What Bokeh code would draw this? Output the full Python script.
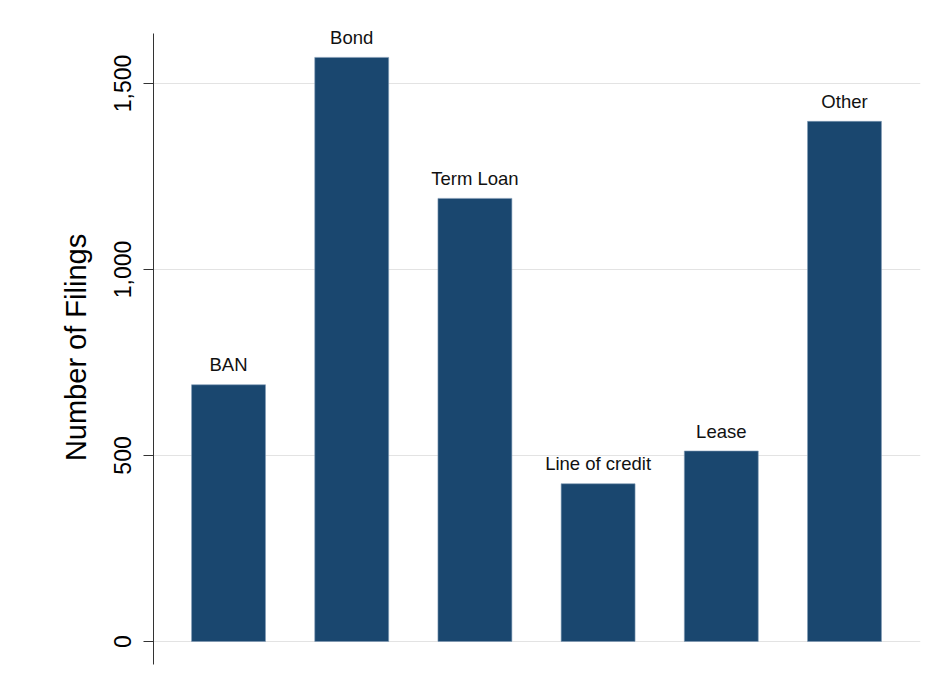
from bokeh.plotting import figure
from bokeh.models import ColumnDataSource, Range1d, FixedTicker, NumeralTickFormatter
from bokeh.core.properties import value
from bokeh.embed import file_html
from bokeh.resources import INLINE

categories = ["BAN", "Bond", "Term Loan", "Line of credit", "Lease", "Other"]
filings = [690, 1570, 1191, 424, 512, 1398]
y_ticks = [0, 500, 1000, 1500]

FONT = "Liberation Sans"
BAR = "#1a476f"

xs = list(range(len(categories)))
src = ColumnDataSource(dict(x=xs, top=filings, cat=categories))

p = figure(width=925, height=684, output_backend="svg", toolbar_location=None,
           x_range=Range1d(-0.609, 5.617), y_range=Range1d(-115.6, 1696),
           min_border_left=153, min_border_right=5, min_border_top=10, min_border_bottom=0)
p.outline_line_color = None
p.background_fill_color = "white"
p.border_fill_color = "white"

p.vbar(x="x", top="top", bottom=0, width=0.6, source=src,
       fill_color=BAR, line_color="#7f9ab5", line_width=0.6)

p.text(x="x", y="top", text="cat", source=src, text_align="center",
       text_baseline="alphabetic", y_offset=-20, text_font=value(FONT),
       text_font_size="18.5px", text_color="#111111")

p.xaxis.visible = False
p.xgrid.grid_line_color = None
p.ygrid.grid_line_color = "#e3e3e3"
p.ygrid.grid_line_width = 1.2

ya = p.yaxis[0]
ya.bounds = (-62, 1634)
ya.ticker = FixedTicker(ticks=y_ticks)
ya.formatter = NumeralTickFormatter(format="0,0")
ya.minor_tick_line_color = None
ya.major_tick_out = 10
ya.major_tick_in = 0
ya.major_tick_line_color = "#333333"
ya.axis_line_color = "#333333"
ya.major_label_orientation = "vertical"
ya.major_label_text_font = FONT
ya.major_label_text_font_size = "23px"
ya.major_label_text_color = "black"
ya.major_label_standoff = 12
ya.axis_label = "Number of Filings"
ya.axis_label_text_font = FONT
ya.axis_label_text_font_size = "29px"
ya.axis_label_text_font_style = "normal"
ya.axis_label_text_color = "black"
ya.axis_label_standoff = 20

open("out.html", "w").write(file_html(p, INLINE))
